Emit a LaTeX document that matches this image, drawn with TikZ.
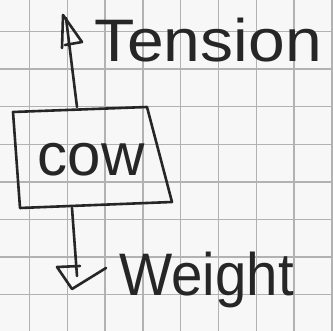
\documentclass[tikz,border=0pt]{standalone}
\usepackage{fontspec}
\setmainfont{Liberation Sans}
\begin{document}
\begin{tikzpicture}[x=1pt,y=-1pt,
  grid/.style={draw=black!30,line width=1.3pt},
  pen/.style={draw=black!85,line width=2.6pt,line cap=round,line join=round},
  hand/.style={inner sep=0pt,text=black!85,font=\fontsize{60}{60}\selectfont}]
\useasboundingbox[fill=black!3] (0,0) rectangle (333,331);
% grid paper
\foreach \i in {0,...,8} {
  \draw[grid] ({29.5+37.8*\i},0) -- ({29.5+37.8*\i},331);
}
\foreach \j in {0,...,8} {
  \draw[grid] (0,{31.5+37.6*\j}) -- (333,{31.5+37.6*\j});
}
% box corners
\coordinate (tl) at (13,112);
\coordinate (tr) at (147,107);
\coordinate (br) at (172,202);
\coordinate (bl) at (20,208);
\draw[pen] (tl) -- (tr) -- (br) -- (bl) -- cycle;
\node[hand,anchor=base] (cow) at (91,176) {cow};
% tension arrow
\coordinate (top) at (77,107);
\coordinate (ttip) at (66,18);
\draw[pen] (top) -- (ttip);
\draw[pen] (62,48) -- (63,15) -- (82,42) -- (65,45);
\node[hand,anchor=base west,xscale=1.1] (tension) at (94,62) {Tension};
% weight arrow
\coordinate (bot) at (72,208);
\coordinate (wtip) at (77,276);
\draw[pen] (bot) -- (wtip);
\draw[pen] (80,266) -- (57,267) -- (72,289) -- (106,268);
\node[hand,anchor=base west,xscale=0.94] (weight) at (119,296) {Weight};
\end{tikzpicture}
\end{document}
